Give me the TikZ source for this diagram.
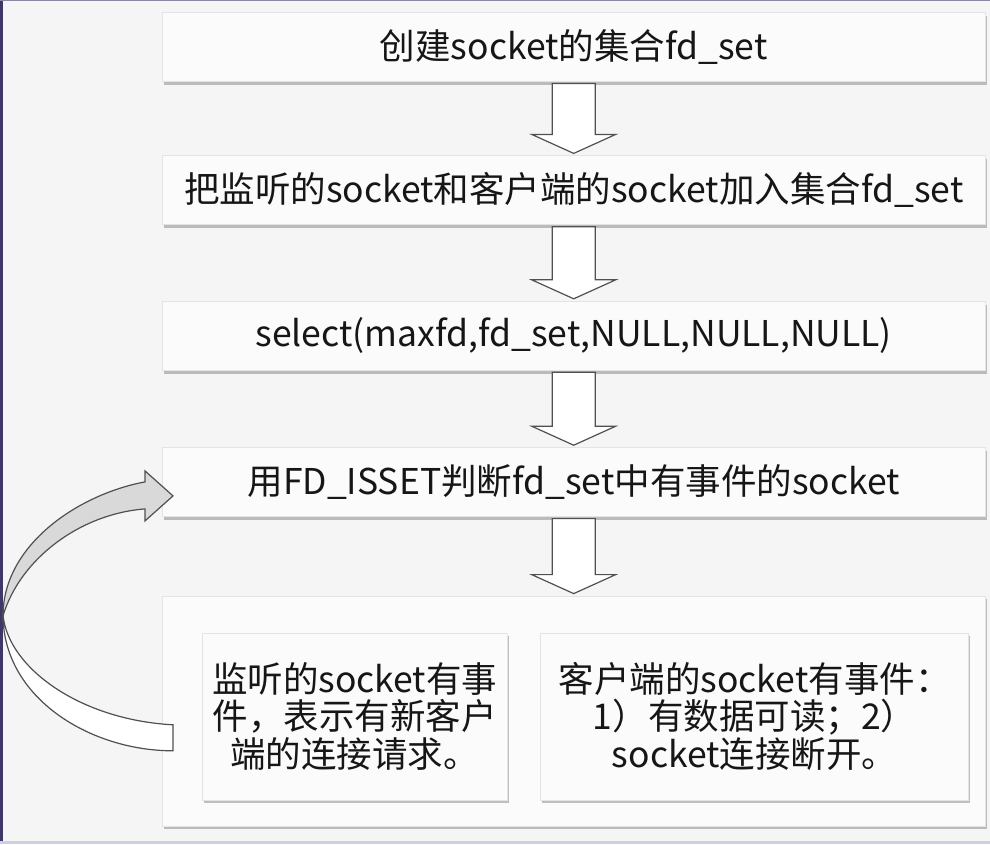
\documentclass[tikz,border=0pt]{standalone}
\usepackage{fontspec}
\setmainfont{Noto Sans CJK SC}
\usetikzlibrary{positioning,calc,shadows}

\definecolor{fluxfond}{HTML}{F5F5F5}
\definecolor{fluxboite}{HTML}{FBFBFB}
\definecolor{fluxbord}{HTML}{E4E4E4}
\definecolor{fluxtrait}{HTML}{505050}
\definecolor{fluxombre}{HTML}{8C8C8C}
\definecolor{fluxgris}{HTML}{D9D9D9}
\definecolor{fluxtexte}{HTML}{161616}
\definecolor{fluxcadre}{HTML}{3E3868}
\definecolor{fluxbleu}{HTML}{C9D1E2}

\begin{document}
\begin{tikzpicture}[x=1pt, y=-1pt,
  etape/.style={draw=fluxbord, fill=fluxboite, text=fluxtexte,
    font=\fontsize{35.5}{40}\selectfont, inner sep=0pt,
    minimum width=823pt, minimum height=69pt,
    drop shadow={shadow xshift=1.5pt, shadow yshift=-3.5pt,
      fill=fluxombre, opacity=.55}},
  cas/.style={etape, align=center, minimum width=305pt, minimum height=167pt,
    font=\fontsize{35.5}{37.5}\selectfont},
  bloc/.style={draw=fluxtrait, line width=1.2pt, fill=white, line join=miter}]

\useasboundingbox (0,0) rectangle (990,844);
\fill[fluxfond] (0,0) rectangle (990,844);
\fill[fluxcadre] (0,0) rectangle (3,844);
\fill[fluxcadre!60] (0,0) rectangle (990,1);
\fill[fluxbleu] (0,841) rectangle (990,844);

% the steps of the select loop
\node[etape, anchor=north west] (creer) at (162,12) {创建socket的集合fd\_set};
\node[etape, below=74pt of creer] (ajout) {把监听的socket和客户端的socket加入集合fd\_set};
\node[etape, below=76pt of ajout] (select) {select(maxfd,fd\_set,NULL,NULL,NULL)};
\node[etape, below=77pt of select] (isset) {用FD\_ISSET判断fd\_set中有事件的socket};
\node[etape, below=79pt of isset, minimum height=230pt] (evts) {};

\node[cas, anchor=north west] (ecoute) at ($(evts.north west)+(40,37)$)
  {监听的socket有事\\件，表示有新客户\\端的连接请求。};
\node[cas, right=33pt of ecoute, minimum width=428pt] (client)
  {客户端的socket有事件：\\1）有数据可读；2）\\socket连接断开。};

% hollow block arrows between the steps
\foreach \a/\b in {creer/ajout, ajout/select, select/isset, isset/evts}{
  \draw[bloc] ($(\a.south)+(-21.5,2)$) -- ($(\b.north)+(-21.5,-21)$)
    -- ($(\b.north)+(-42,-21)$) -- ($(\b.north)+(0,-2)$)
    -- ($(\b.north)+(42,-21)$) -- ($(\b.north)+(21.5,-21)$)
    -- ($(\a.south)+(21.5,2)$) -- cycle;
}

% curved arrow back from the listening case
\coordinate (retour) at ($(isset.west)+(11,14)$);
\coordinate (depart) at ($(evts.west)+(11,27)$);
\begin{scope}[shift={(depart)}]
  \draw[bloc] (0,13) .. controls (-83,13) and (-170,-40) .. (-170,-123)
    .. controls (-165,-70) and (-93,-18) .. (0,-13) -- cycle;
\end{scope}
\begin{scope}[shift={(retour)}]
  \draw[bloc, fill=fluxgris] (-170,120) .. controls (-170,48) and (-93,-2) .. (-28,-14)
    -- (-28,-25) -- (0,0) -- (-28,25) -- (-28,13)
    .. controls (-93,18) and (-153,63) .. (-170,120) -- cycle;
\end{scope}
\end{tikzpicture}
\end{document}
